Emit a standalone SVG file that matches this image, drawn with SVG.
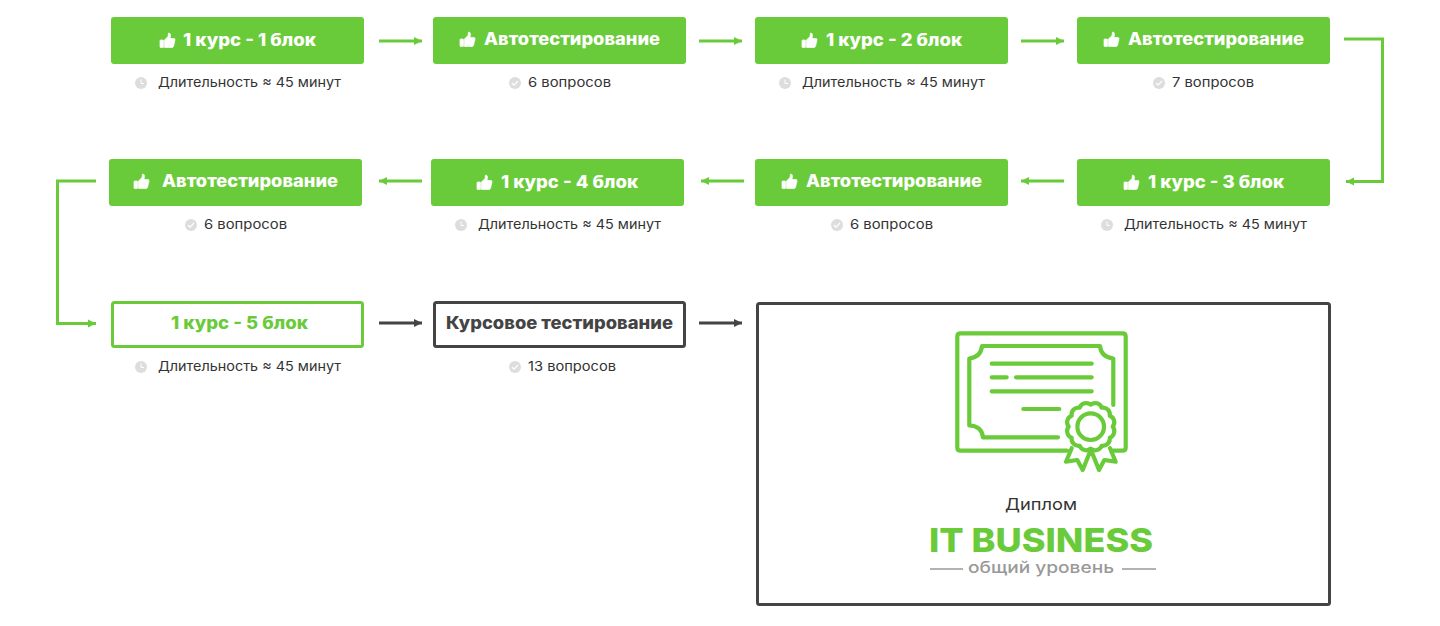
<svg xmlns="http://www.w3.org/2000/svg" width="1440" height="626" viewBox="0 0 1440 626">
<style>
text{font-family:"Inter","Noto Sans","Liberation Sans",sans-serif}
.b{fill:#6acb3a}
.o{fill:#fff;stroke:#6acb3a;stroke-width:3}
.d{fill:#fff;stroke:#444;stroke-width:3}
.t{font-size:17px;font-weight:800;fill:#fff}
.s{font-size:13.500px;font-weight:400;fill:#333}
.g{fill:none;stroke:#6acb3a;stroke-width:3}
.k{fill:none;stroke:#444;stroke-width:3}
.i{fill:none;stroke:#6acb3a;stroke-width:4.200;stroke-linecap:round;stroke-linejoin:round}
</style>
<defs>
<marker id="ag" markerUnits="userSpaceOnUse" markerWidth="10" markerHeight="10" refX="9" refY="5" orient="auto"><path d="M1 1L9 5L1 9z" fill="#6acb3a"/></marker>
<marker id="ak" markerUnits="userSpaceOnUse" markerWidth="10" markerHeight="10" refX="9" refY="5" orient="auto"><path d="M1 1L9 5L1 9z" fill="#444"/></marker>
<g id="thumb" fill="#fff" stroke="#fff" stroke-width=".7"><rect x="0" y="7" width="3.500" height="7.500" rx=".6"/><path d="M4.500 7L8 3.500L8.500 0Q10.700 0 10.500 2.500L10 5.500H14Q15.200 5.500 15 7L13.500 13.500Q13 14.500 12 14.500H4.500z"/></g>
<g id="clock"><circle r="6" fill="#ddd"/><path d="M0-3.500V0.500H3" fill="none" stroke="#fff" stroke-width="1"/></g>
<g id="check"><circle r="6" fill="#ddd"/><path d="M-3 0L-1 2.200L3-2" fill="none" stroke="#fff" stroke-width="1.200"/></g>
</defs>

<g id="connectors">
<path class="g" marker-end="url(#ag)" d="M379 41H422"/>
<path class="g" marker-end="url(#ag)" d="M699 41H742"/>
<path class="g" marker-end="url(#ag)" d="M1021 41H1064"/>
<path class="g" marker-end="url(#ag)" d="M1344 39H1382.500V181.500H1346"/>
<path class="g" marker-end="url(#ag)" d="M1064 181H1021"/>
<path class="g" marker-end="url(#ag)" d="M744 181H701"/>
<path class="g" marker-end="url(#ag)" d="M422 181H379"/>
<path class="g" marker-end="url(#ag)" d="M96 181H57.500V323.500H96"/>
<path class="k" marker-end="url(#ak)" d="M379 323H422"/>
<path class="k" marker-end="url(#ak)" d="M699 323H742"/>
</g>

<g id="n1"><rect class="b" x="111" y="17" width="253" height="47" rx="3"/><use href="#thumb" x="160" y="33"/><text class="t" x="183" y="46" textLength="133" lengthAdjust="spacingAndGlyphs">1 курс - 1 блок</text><use href="#clock" x="141" y="83"/><text class="s" x="158" y="87" textLength="183" lengthAdjust="spacingAndGlyphs">Длительность ≈ 45 минут</text></g>
<g id="n2"><rect class="b" x="433" y="17" width="253" height="47" rx="3"/><use href="#thumb" x="460" y="32"/><text class="t" x="484" y="45" textLength="176" lengthAdjust="spacingAndGlyphs">Автотестирование</text><use href="#check" x="515" y="83"/><text class="s" x="528" y="87" textLength="83" lengthAdjust="spacingAndGlyphs">6 вопросов</text></g>
<g id="n3"><rect class="b" x="755" y="17" width="253" height="47" rx="3"/><use href="#thumb" x="802" y="33"/><text class="t" x="826" y="46" textLength="136" lengthAdjust="spacingAndGlyphs">1 курс - 2 блок</text><use href="#clock" x="785" y="83"/><text class="s" x="802" y="87" textLength="183" lengthAdjust="spacingAndGlyphs">Длительность ≈ 45 минут</text></g>
<g id="n4"><rect class="b" x="1077" y="17" width="253" height="47" rx="3"/><use href="#thumb" x="1104" y="32"/><text class="t" x="1128" y="45" textLength="176" lengthAdjust="spacingAndGlyphs">Автотестирование</text><use href="#check" x="1159" y="83"/><text class="s" x="1172" y="87" textLength="82" lengthAdjust="spacingAndGlyphs">7 вопросов</text></g>

<g id="n5"><rect class="b" x="1077" y="159" width="253" height="47" rx="3"/><use href="#thumb" x="1124" y="175"/><text class="t" x="1148" y="188" textLength="136" lengthAdjust="spacingAndGlyphs">1 курс - 3 блок</text><use href="#clock" x="1107" y="225"/><text class="s" x="1124" y="229" textLength="183" lengthAdjust="spacingAndGlyphs">Длительность ≈ 45 минут</text></g>
<g id="n6"><rect class="b" x="755" y="159" width="253" height="47" rx="3"/><use href="#thumb" x="782" y="174"/><text class="t" x="806" y="187" textLength="176" lengthAdjust="spacingAndGlyphs">Автотестирование</text><use href="#check" x="837" y="225"/><text class="s" x="850" y="229" textLength="83" lengthAdjust="spacingAndGlyphs">6 вопросов</text></g>
<g id="n7"><rect class="b" x="431" y="159" width="253" height="47" rx="3"/><use href="#thumb" x="477" y="175"/><text class="t" x="501" y="188" textLength="137" lengthAdjust="spacingAndGlyphs">1 курс - 4 блок</text><use href="#clock" x="461" y="225"/><text class="s" x="478" y="229" textLength="183" lengthAdjust="spacingAndGlyphs">Длительность ≈ 45 минут</text></g>
<g id="n8"><rect class="b" x="109" y="159" width="253" height="47" rx="3"/><use href="#thumb" x="134" y="174"/><text class="t" x="162" y="187" textLength="176" lengthAdjust="spacingAndGlyphs">Автотестирование</text><use href="#check" x="191" y="225"/><text class="s" x="204" y="229" textLength="83" lengthAdjust="spacingAndGlyphs">6 вопросов</text></g>

<g id="n9"><rect class="o" x="112.500" y="302.500" width="250" height="44" rx="2"/><text class="t" style="fill:#6acb3a" x="171" y="329" textLength="137" lengthAdjust="spacingAndGlyphs">1 курс - 5 блок</text><use href="#clock" x="141" y="367"/><text class="s" x="158" y="371" textLength="183" lengthAdjust="spacingAndGlyphs">Длительность ≈ 45 минут</text></g>
<g id="n10"><rect class="d" x="434.500" y="302.500" width="250" height="44" rx="2"/><text class="t" style="fill:#444" x="446" y="329" textLength="227" lengthAdjust="spacingAndGlyphs">Курсовое тестирование</text><use href="#check" x="515" y="367"/><text class="s" x="528" y="371" textLength="88" lengthAdjust="spacingAndGlyphs">13 вопросов</text></g>

<g id="n11">
<rect class="d" x="757.500" y="303.500" width="572" height="301" rx="2"/>
<g class="i">
<path d="M1067 450.700H960.500Q957.300 450.700 957.300 447.500V336.500Q957.300 333.300 960.500 333.300H1122.500Q1125.700 333.300 1125.700 336.500V447.500Q1125.700 450.700 1122.500 450.700H1112"/>
<path d="M1113.300 405V358.500Q1101 357 1100 346H982Q981 357 969.300 358.500V425.500Q982 426 983 437.300H1058"/>
<path d="M991.700 363.700H1091.700M991.700 377.300H1006.700M1016 377.300H1091.700M991.700 391.300H1091.700M1023.300 409H1059.300"/>
<path d="M1112.700 426.700A7 7 0 0 1 1109.750 437.700A7 7 0 0 1 1101.700 445.750A7 7 0 0 1 1090.700 448.700A7 7 0 0 1 1079.700 445.750A7 7 0 0 1 1071.650 437.700A7 7 0 0 1 1068.700 426.700A7 7 0 0 1 1071.650 415.700A7 7 0 0 1 1079.700 407.650A7 7 0 0 1 1090.700 404.700A7 7 0 0 1 1101.700 407.650A7 7 0 0 1 1109.750 415.700A7 7 0 0 1 1112.700 426.700z"/>
<circle cx="1090.700" cy="426.700" r="13.300"/>
<path d="M1071.700 448.300L1066 461.700L1077.300 460L1082.700 470L1090 451.700M1110 448.300L1115.700 461.700L1104.300 460L1099 470L1091.700 451.700"/>
</g>
<text x="1005" y="510" font-size="16.500" font-weight="400" fill="#333" textLength="72" lengthAdjust="spacingAndGlyphs">Диплом</text>
<text x="929" y="552" font-size="33" font-weight="800" fill="#6acb3a" textLength="224" lengthAdjust="spacingAndGlyphs">IT BUSINESS</text>
<text x="968" y="573" font-size="16" font-weight="500" fill="#999" textLength="146" lengthAdjust="spacingAndGlyphs">общий уровень</text>
<path d="M930 569H963M1122 569H1156" stroke="#999" stroke-width="1.500" fill="none"/>
</g>
</svg>
